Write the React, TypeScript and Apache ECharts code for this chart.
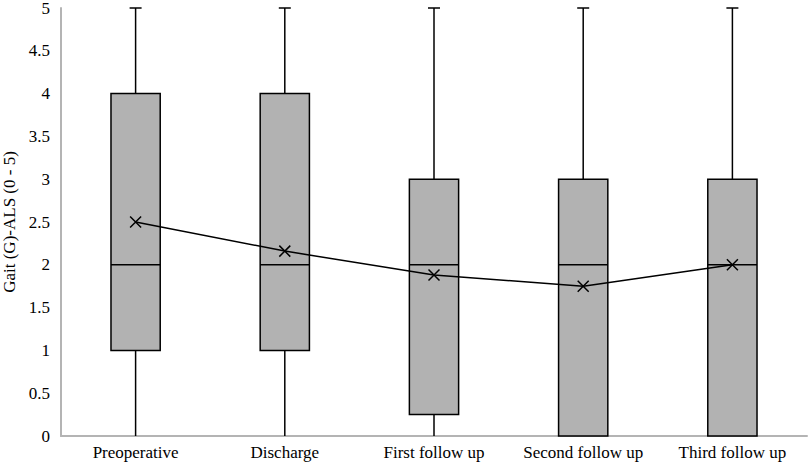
import React, { useEffect, useRef } from "react";
import * as echarts from "echarts";

const categories = ["Preoperative", "Discharge", "First follow up", "Second follow up", "Third follow up"];
const minValues = [0, 0, 0, 0, 0];
const q1Values = [1, 1, 0.25, 0, 0];
const medianValues = [2, 2, 2, 2, 2];
const q3Values = [4, 4, 3, 3, 3];
const maxValues = [5, 5, 5, 5, 5];
const meanValues = [2.5, 2.16, 1.88, 1.75, 2.0];

const FONT = "'Liberation Serif', 'Times New Roman', serif";

export default function App() {
  const ref = useRef<HTMLDivElement>(null);
  useEffect(() => {
    document.body.style.margin = "0";
    const chart = echarts.init(ref.current!, null, { renderer: "svg" });
    const boxData = categories.map((_, i) => [i, minValues[i], q1Values[i], medianValues[i], q3Values[i], maxValues[i]]);
    chart.setOption({
      animation: false,
      backgroundColor: "#ffffff",
      grid: { left: 61, right: 3, top: 8, bottom: 34, containLabel: false, outerBoundsMode: "none" },
      xAxis: {
        type: "category",
        data: categories,
        boundaryGap: true,
        axisLine: { show: true, lineStyle: { color: "#b4b4b4", width: 2 } },
        axisTick: { show: false },
        axisLabel: { color: "#000", fontSize: 17, fontFamily: FONT, margin: 8, interval: 0 },
        splitLine: { show: false },
      },
      yAxis: {
        type: "value",
        min: 0,
        max: 5,
        interval: 0.5,
        name: "Gait (G)-ALS (0 - 5)",
        nameLocation: "middle",
        nameGap: 43,
        nameTextStyle: { color: "#000", fontSize: 17, fontFamily: FONT },
        axisLine: { show: true, lineStyle: { color: "#b4b4b4", width: 2 } },
        axisTick: { show: false },
        axisLabel: { color: "#000", fontSize: 17, fontFamily: FONT, margin: 11 },
        splitLine: { show: false },
      },
      series: [
        {
          type: "custom",
          data: boxData,
          encode: { x: 0, y: [1, 2, 3, 4, 5] },
          z: 2,
          renderItem: (params: any, api: any) => {
            const idx = api.value(0);
            const pMin = api.coord([idx, api.value(1)]);
            const pQ1 = api.coord([idx, api.value(2)]);
            const pMed = api.coord([idx, api.value(3)]);
            const pQ3 = api.coord([idx, api.value(4)]);
            const pMax = api.coord([idx, api.value(5)]);
            const bandW = api.size([1, 0])[0];
            const w = bandW * 0.33;
            const cx = pMed[0];
            const cap = 6;
            const ls = { stroke: "#000", lineWidth: 1.5 };
            return {
              type: "group",
              children: [
                { type: "line", shape: { x1: cx, y1: pQ3[1], x2: cx, y2: pMax[1] }, style: ls },
                { type: "line", shape: { x1: cx, y1: pMin[1], x2: cx, y2: pQ1[1] }, style: ls },
                { type: "line", shape: { x1: cx - cap, y1: pMax[1], x2: cx + cap, y2: pMax[1] }, style: ls },
                {
                  type: "rect",
                  shape: { x: cx - w / 2, y: pQ3[1], width: w, height: pQ1[1] - pQ3[1] },
                  style: { fill: "#b2b2b2", stroke: "#000", lineWidth: 1.5 },
                },
                { type: "line", shape: { x1: cx - w / 2, y1: pMed[1], x2: cx + w / 2, y2: pMed[1] }, style: ls },
              ],
            };
          },
        },
        {
          type: "line",
          data: meanValues,
          z: 5,
          symbol: "path://M0,0L10,10M10,0L0,10",
          symbolSize: 11,
          lineStyle: { color: "#000", width: 1.5 },
          itemStyle: { color: "transparent", borderColor: "#000", borderWidth: 1.5 },
        },
      ],
    });
    return () => chart.dispose();
  }, []);
  return <div ref={ref} style={{ width: 810, height: 470 }} />;
}
